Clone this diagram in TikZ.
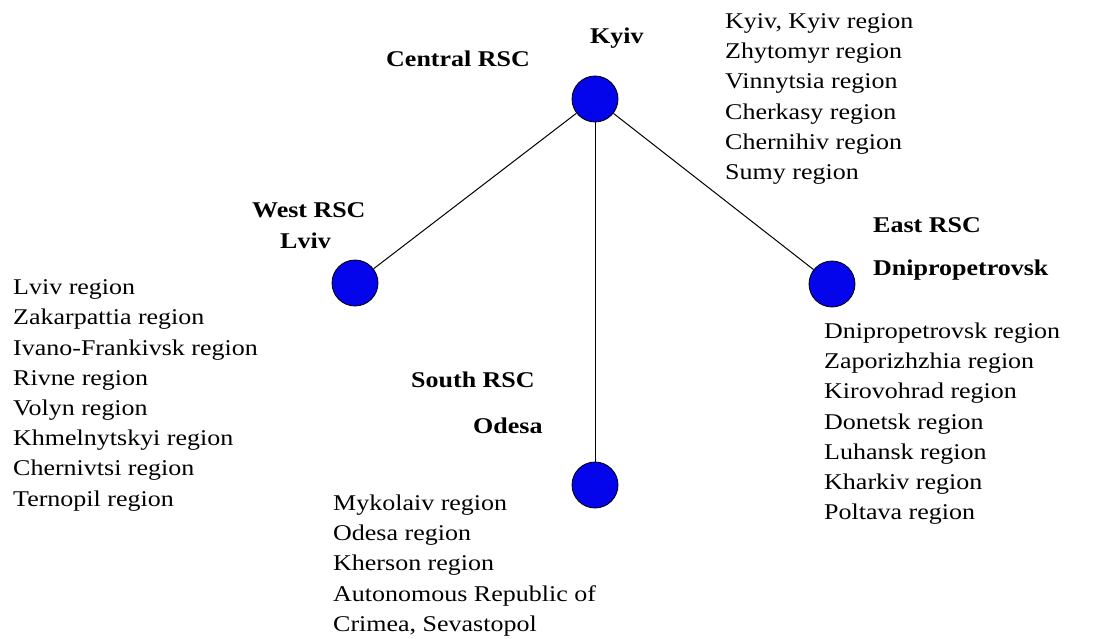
\documentclass[tikz,border=0pt]{standalone}
\usepackage{fontspec}
\setmainfont[FakeStretch=1.155]{Liberation Serif}
\definecolor{rscblue}{RGB}{5, 5, 235}
\usepackage{tikz}

\begin{document}
\begin{tikzpicture}[x=1pt, y=-1pt,
    rsc/.style={circle, draw=black, line width=0.8pt, fill=rscblue, minimum size=46pt, inner sep=0pt},
    hublabel/.style={anchor=base west, inner sep=0pt, font=\fontsize{22.5}{30.2}\selectfont\bfseries},
    regionlist/.style={anchor=north west, inner sep=0pt, align=left, font=\fontsize{22.5}{30.2}\selectfont},
    link/.style={draw=black, line width=1pt}]
  \useasboundingbox (0,0) rectangle (1113,639);

  \node[rsc] (kyiv) at (595,99) {};
  \node[rsc] (lviv) at (355,283) {};
  \node[rsc] (dnipro) at (832,284) {};
  \node[rsc] (odesa) at (595,485) {};

  \draw[link] (kyiv) -- (lviv);
  \draw[link] (kyiv) -- (dnipro);
  \draw[link] (kyiv) -- (odesa);

  \node[hublabel] (kyivcity) at (590,44) {Kyiv};
  \node[hublabel] (centralrsc) at (386,67) {Central RSC};
  \node[hublabel] (westrsc) at (252,218) {West RSC};
  \node[hublabel] (lvivcity) at (280,248) {Lviv};
  \node[hublabel] (eastrsc) at (873,232) {East RSC};
  \node[hublabel] (dniprocity) at (873,275) {Dnipropetrovsk};
  \node[hublabel] (southrsc) at (411,387) {South RSC};
  \node[hublabel] (odesacity) at (473,433) {Odesa};

  \node[regionlist] (centrallist) at (725,13.5) {Kyiv, Kyiv region\\Zhytomyr region\\Vinnytsia region\\Cherkasy region\\Chernihiv region\\Sumy region};
  \node[regionlist] (westlist) at (13,279.6) {Lviv region\\Zakarpattia region\\Ivano-Frankivsk region\\Rivne region\\Volyn region\\Khmelnytskyi region\\Chernivtsi region\\Ternopil region};
  \node[regionlist] (eastlist) at (824,322.6) {Dnipropetrovsk region\\Zaporizhzhia region\\Kirovohrad region\\Donetsk region\\Luhansk region\\Kharkiv region\\Poltava region};
  \node[regionlist] (southlist) at (333,494.6) {Mykolaiv region\\Odesa region\\Kherson region\\Autonomous Republic of\\Crimea, Sevastopol};
\end{tikzpicture}
\end{document}
